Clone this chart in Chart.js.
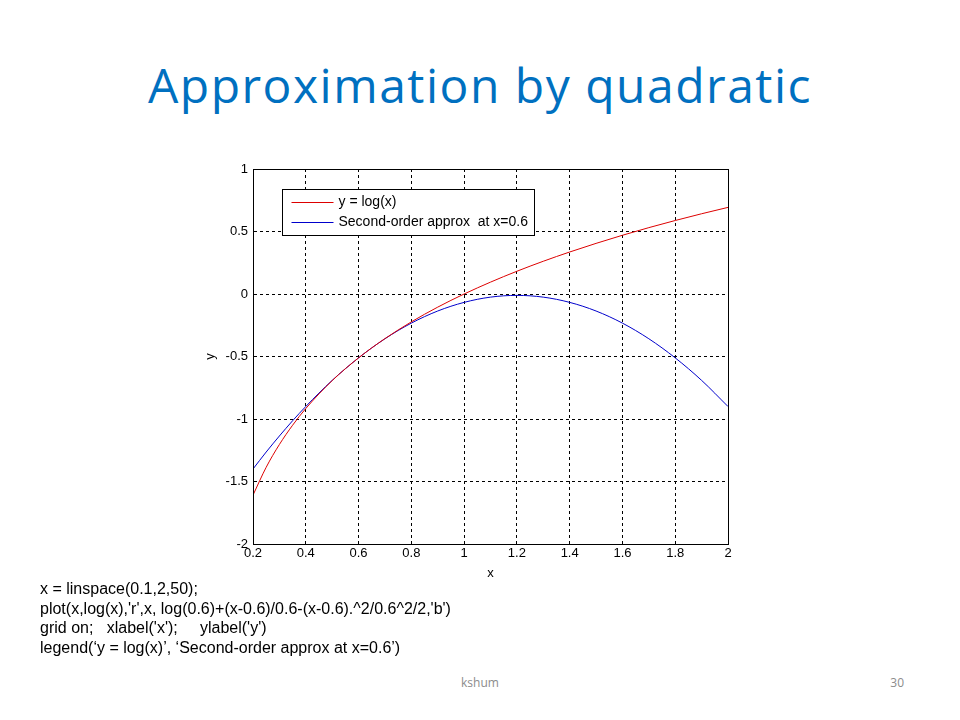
<!DOCTYPE html>
<html>
<head>
<meta charset="utf-8">
<script src="https://cdn.jsdelivr.net/npm/chart.js@4"></script>
<style>
  body { margin: 0; width: 960px; height: 720px; background: #fff; position: relative; overflow: hidden; }
  h1 { position: absolute; left: 0; top: 55px; width: 960px; margin: 0; text-align: center;
       font: 48px "Open Sans", sans-serif; letter-spacing: 1.5px; color: #0070c0; line-height: 60px; }
  #wrap { position: absolute; left: 160px; top: 150px; width: 600px; height: 440px; }
  .code { position: absolute; left: 40px; top: 579px; font: 16px "Liberation Sans", Arial, sans-serif;
          line-height: 19.5px; color: #000; white-space: pre; }
  .foot { position: absolute; top: 674px; font: 12px "Open Sans", sans-serif; color: #8c8c8c; }
</style>
</head>
<body>
<h1>Approximation by quadratic</h1>
<div id="wrap"><canvas id="myChart"></canvas></div>
<div class="code">x = linspace(0.1,2,50);
plot(x,log(x),'r',x, log(0.6)+(x-0.6)/0.6-(x-0.6).^2/0.6^2/2,'b')
grid on;   xlabel('x');     ylabel('y')
legend(‘y = log(x)’, ‘Second-order approx at x=0.6’)</div>
<div class="foot" style="left:0;width:960px;text-align:center">kshum</div>
<div class="foot" style="left:880px;width:24px;text-align:right">30</div>
<script>
const xs = [0.2,0.25,0.3,0.35,0.4,0.5,0.6,0.7,0.8,0.9,1.0,1.1,1.2,1.3,1.4,1.5,1.6,1.7,1.8,1.9,2.0];
const logY = [-1.609,-1.386,-1.204,-1.050,-0.916,-0.693,-0.511,-0.357,-0.223,-0.105,0.0,0.095,0.182,0.262,0.336,0.405,0.470,0.531,0.588,0.642,0.693];
const approxY = [-1.400,-1.264,-1.136,-1.014,-0.900,-0.691,-0.511,-0.358,-0.233,-0.136,-0.067,-0.025,-0.011,-0.025,-0.067,-0.136,-0.233,-0.358,-0.511,-0.691,-0.900];
const xTicks = [0.2,0.4,0.6,0.8,1.0,1.2,1.4,1.6,1.8,2.0];
const xTickLabels = ['0.2','0.4','0.6','0.8','1','1.2','1.4','1.6','1.8','2'];
const yTicks = [-2,-1.5,-1,-0.5,0,0.5,1];
const yTickLabels = ['-2','-1.5','-1','-0.5','0','0.5','1'];
const seriesLabels = ['y = log(x)', 'Second-order approx  at x=0.6'];

const tickFont = { family: 'Liberation Sans', size: 13 };

// box round the axes + legend inside the plot, matlab style
const boxPlugin = {
  id: 'box',
  afterDraw(chart) {
    const { ctx, chartArea: a } = chart;
    ctx.save();
    ctx.strokeStyle = '#000';
    ctx.lineWidth = 1;
    ctx.strokeRect(a.left + 0.5, a.top + 0.5, a.right - a.left, a.bottom - a.top);
    const lx = a.left + 29.5, ly = a.top + 20.5;
    ctx.fillStyle = '#fff';
    ctx.fillRect(lx, ly, 252, 46);
    ctx.strokeRect(lx, ly, 252, 46);
    ctx.font = '14px "Liberation Sans"';
    ctx.textBaseline = 'middle';
    chart.data.datasets.forEach((ds, i) => {
      const y = ly + 13 + i * 20;
      ctx.strokeStyle = ds.borderColor;
      ctx.beginPath();
      ctx.moveTo(lx + 9, y);
      ctx.lineTo(lx + 51, y);
      ctx.stroke();
      ctx.fillStyle = '#000';
      ctx.fillText(ds.label, lx + 56, y);
    });
    ctx.restore();
  }
};

const ctx1 = document.getElementById('myChart');
new Chart(ctx1, {
  type: 'line',
  data: {
    datasets: [{
      label: seriesLabels[0],
      data: xs.map((x, i) => ({ x: x, y: logY[i] })),
      borderColor: '#dd0000',
      borderWidth: 1,
      pointRadius: 0,
      cubicInterpolationMode: 'monotone'
    }, {
      label: seriesLabels[1],
      data: xs.map((x, i) => ({ x: x, y: approxY[i] })),
      borderColor: '#0000cc',
      borderWidth: 1,
      pointRadius: 0,
      cubicInterpolationMode: 'monotone'
    }]
  },
  options: {
    responsive: true,
    maintainAspectRatio: false,
    animation: false,
    layout: { padding: { top: 19, right: 32, left: 0, bottom: 0 } },
    plugins: { legend: { display: false }, tooltip: { enabled: false } },
    scales: {
      x: {
        type: 'linear', min: 0.2, max: 2,
        afterFit(s) { s.height = 46; },
        afterBuildTicks(s) { s.ticks = xTicks.map(v => ({ value: v })); },
        ticks: { callback: (v, i) => xTickLabels[i], font: tickFont, color: '#000', padding: 2, maxRotation: 0 },
        grid: { color: '#000', drawTicks: false },
        border: { color: '#000', dash: [3, 3] },
        title: { display: true, text: 'x', font: tickFont, color: '#000', padding: { top: 0, bottom: 9 } }
      },
      y: {
        type: 'linear', min: -2, max: 1,
        afterFit(s) { s.width = 93; },
        afterBuildTicks(s) { s.ticks = yTicks.map(v => ({ value: v })); },
        ticks: { callback: (v, i) => yTickLabels[i], font: tickFont, color: '#000', padding: 5 },
        grid: { color: '#000', drawTicks: false },
        border: { color: '#000', dash: [3, 3] },
        title: { display: true, text: 'y', font: tickFont, color: '#000', padding: { top: 43, bottom: 0 } }
      }
    }
  },
  plugins: [boxPlugin]
});
</script>
</body>
</html>
